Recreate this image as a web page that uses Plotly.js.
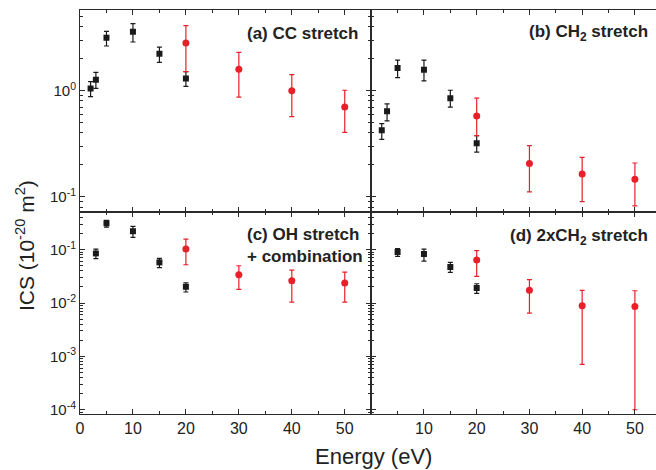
<!DOCTYPE html>
<html>
<head>
<meta charset="utf-8">
<script src="https://cdn.plot.ly/plotly-3.0.1.min.js"></script>
<style>html,body{margin:0;padding:0;background:#fff;}#chart{width:656px;height:470px;}</style>
</head>
<body>
<div id="chart"></div>
<script>
// Energies (eV)
const energyBlackAB = [2, 3, 5, 10, 15, 20];
const energyBlackC = [3, 5, 10, 15, 20];
const energyBlackD = [5, 10, 15, 20];
const energyRed = [20, 30, 40, 50];

// (a) CC stretch
const aBlack = [1.05, 1.27, 3.16, 3.6, 2.23, 1.30];
const aBlackHi = [1.22, 1.49, 3.63, 4.29, 2.58, 1.51];
const aBlackLo = [0.88, 1.05, 2.64, 2.88, 1.85, 1.10];
const aRed = [2.82, 1.59, 1.0, 0.70];
const aRedHi = [4.1, 2.30, 1.42, 1.01];
const aRedLo = [1.51, 0.87, 0.57, 0.405];

// (b) CH2 stretch
const bBlack = [0.423, 0.64, 1.64, 1.58, 0.85, 0.32];
const bBlackHi = [0.49, 0.75, 1.94, 1.94, 1.01, 0.376];
const bBlackLo = [0.348, 0.52, 1.33, 1.24, 0.70, 0.264];
const bRed = [0.577, 0.206, 0.164, 0.146];
const bRedHi = [0.85, 0.303, 0.235, 0.208];
const bRedLo = [0.376, 0.111, 0.090, 0.082];

// (c) OH stretch + combination
const cBlack = [0.0853, 0.312, 0.221, 0.0579, 0.0202];
const cBlackHi = [0.103, 0.355, 0.274, 0.0688, 0.024];
const cBlackLo = [0.0678, 0.266, 0.170, 0.046, 0.0161];
const cRed = [0.103, 0.034, 0.0262, 0.0237];
const cRedHi = [0.158, 0.050, 0.0416, 0.038];
const cRedLo = [0.0523, 0.018, 0.0104, 0.0104];

// (d) 2xCH2 stretch
const dBlack = [0.0904, 0.083, 0.0473, 0.0191];
const dBlackHi = [0.105, 0.103, 0.0579, 0.023];
const dBlackLo = [0.075, 0.0613, 0.0376, 0.0152];
const dRed = [0.064, 0.0173, 0.0089, 0.00866];
const dRedHi = [0.0958, 0.0274, 0.0173, 0.017];
const dRedLo = [0.0316, 0.0065, 0.00071, 0.0001];

// Tick labels
const xTickValsLeft = [0, 10, 20, 30, 40, 50];
const xTickValsRight = [10, 20, 30, 40, 50];
const yTickValsTop = [0.1, 1];
const yTickTextTop = ['10<sup>-1</sup>', '10<sup>0</sup>'];
const yTickValsBottom = [0.0001, 0.001, 0.01, 0.1];
const yTickTextBottom = ['10<sup>-4</sup>', '10<sup>-3</sup>', '10<sup>-2</sup>', '10<sup>-1</sup>'];

const BLACK = '#1a1a1a';
const RED = '#e8202a';

function series(x, y, hi, lo, color, symbol, size, xa, ya) {
  return {
    x: x, y: y, xaxis: xa, yaxis: ya, type: 'scatter', mode: 'markers',
    marker: {color: color, symbol: symbol, size: size},
    error_y: {type: 'data', symmetric: false,
      array: y.map((v, i) => hi[i] - v),
      arrayminus: y.map((v, i) => v - lo[i]),
      color: color, thickness: 1.2, width: 2.5},
    showlegend: false, hoverinfo: 'skip'
  };
}

const traces = [
  series(energyBlackAB, aBlack, aBlackHi, aBlackLo, BLACK, 'square', 6, 'x', 'y'),
  series(energyRed, aRed, aRedHi, aRedLo, RED, 'circle', 7, 'x', 'y'),
  series(energyBlackAB, bBlack, bBlackHi, bBlackLo, BLACK, 'square', 6, 'x2', 'y2'),
  series(energyRed, bRed, bRedHi, bRedLo, RED, 'circle', 7, 'x2', 'y2'),
  series(energyBlackC, cBlack, cBlackHi, cBlackLo, BLACK, 'square', 6, 'x3', 'y3'),
  series(energyRed, cRed, cRedHi, cRedLo, RED, 'circle', 7, 'x3', 'y3'),
  series(energyBlackD, dBlack, dBlackHi, dBlackLo, BLACK, 'square', 6, 'x4', 'y4'),
  series(energyRed, dRed, dRedHi, dRedLo, RED, 'circle', 7, 'x4', 'y4')
];

const LINE = '#2a2a2a';
const xFont = {family: 'Liberation Sans, Arial, sans-serif', size: 16, color: '#222'};
const yFont = {family: 'Liberation Sans, Arial, sans-serif', size: 15, color: '#222'};

function xax(domain, range, anchor, showLabels, vals, mirror) {
  return {
    domain: domain, range: range, anchor: anchor, type: 'linear',
    showgrid: false, zeroline: false, showline: true, linecolor: LINE, linewidth: 1,
    mirror: mirror, ticks: 'inside', ticklen: 5, tickcolor: LINE, tickwidth: 1,
    tickvals: vals, showticklabels: showLabels, tickfont: xFont,
    minor: {dtick: 5, ticks: 'inside', ticklen: 3, tickcolor: LINE, showgrid: false}
  };
}
function yax(domain, range, anchor, showLabels, vals, text, mirror) {
  return {
    domain: domain, range: range, anchor: anchor, type: 'log',
    showgrid: false, zeroline: false, showline: true, linecolor: LINE, linewidth: 1,
    mirror: mirror, ticks: 'inside', ticklen: 5, tickcolor: LINE, tickwidth: 1,
    tickvals: vals, ticktext: text, showticklabels: showLabels, tickfont: yFont,
    minor: {dtick: 'D1', ticks: 'inside', ticklen: 3, tickcolor: LINE, showgrid: false}
  };
}

const xSplit = 0.5056;
const topRange = [-1.144, 0.761];
const botRange = [-4.08, -0.293];

const layout = {
  width: 656, height: 470,
  margin: {l: 80, r: 0, t: 10, b: 56},
  paper_bgcolor: '#fff', plot_bgcolor: '#fff',
  showlegend: false,
  xaxis: xax([0, xSplit], [0, 55], 'y', false, xTickValsLeft, 'ticks'),
  yaxis: yax([0.5, 1], topRange, 'x', true, yTickValsTop, yTickTextTop, 'ticks'),
  xaxis2: xax([xSplit, 1], [0, 54], 'y2', false, xTickValsLeft, 'ticks'),
  yaxis2: yax([0.5, 1], topRange, 'x2', false, yTickValsTop, yTickTextTop, false),
  xaxis3: xax([0, xSplit], [0, 55], 'y3', true, xTickValsLeft, 'ticks'),
  yaxis3: yax([0, 0.5], botRange, 'x3', true, yTickValsBottom, yTickTextBottom, 'ticks'),
  xaxis4: xax([xSplit, 1], [0, 54], 'y4', true, xTickValsRight, 'ticks'),
  yaxis4: yax([0, 0.5], botRange, 'x4', false, yTickValsBottom, yTickTextBottom, false),
  annotations: [
    {text: '<b>(a) CC stretch</b>', xref: 'paper', yref: 'paper', x: 0.486, y: 0.943,
     xanchor: 'right', yanchor: 'middle', showarrow: false,
     font: {family: 'Liberation Sans, Arial, sans-serif', size: 17, color: '#222'}},
    {text: '<b>(b) CH<sub>2</sub> stretch</b>', xref: 'paper', yref: 'paper', x: 0.99, y: 0.943,
     xanchor: 'right', yanchor: 'middle', showarrow: false,
     font: {family: 'Liberation Sans, Arial, sans-serif', size: 17, color: '#222'}},
    {text: '<b>(c) OH stretch<br>+ combination</b>', xref: 'paper', yref: 'paper', x: 0.2865, y: 0.416,
     xanchor: 'left', yanchor: 'middle', align: 'left', showarrow: false,
     font: {family: 'Liberation Sans, Arial, sans-serif', size: 17, color: '#222'}},
    {text: '<b>(d) 2xCH<sub>2</sub> stretch</b>', xref: 'paper', yref: 'paper', x: 0.99, y: 0.439,
     xanchor: 'right', yanchor: 'middle', showarrow: false,
     font: {family: 'Liberation Sans, Arial, sans-serif', size: 17, color: '#222'}},
    {text: 'ICS (10<sup>-20</sup> m<sup>2</sup>)', xref: 'paper', yref: 'paper', x: -0.0955, y: 0.418,
     xanchor: 'center', yanchor: 'middle', textangle: -90, showarrow: false,
     font: {family: 'Liberation Sans, Arial, sans-serif', size: 21, color: '#222'}},
    {text: 'Energy (eV)', xref: 'paper', yref: 'paper', x: 0.51, y: -0.106,
     xanchor: 'center', yanchor: 'middle', showarrow: false,
     font: {family: 'Liberation Sans, Arial, sans-serif', size: 22, color: '#222'}}
  ]
};

Plotly.newPlot('chart', traces, layout, {staticPlot: true, displayModeBar: false});
</script>
</body>
</html>
